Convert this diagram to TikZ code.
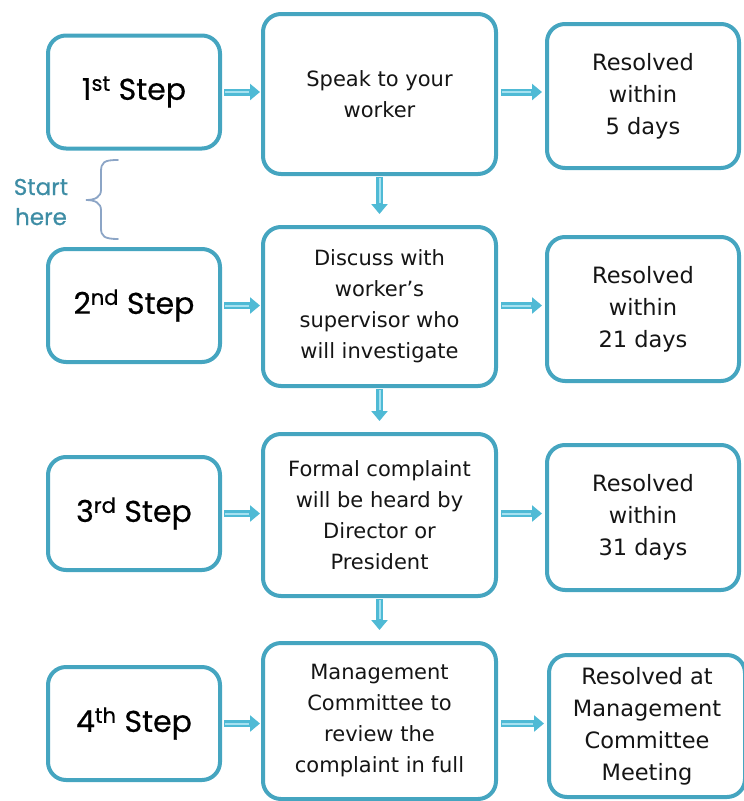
\documentclass[tikz,border=0pt]{standalone}
\usepackage{fontspec}
\setmainfont{DejaVu Sans}
\newfontfamily\stepfont{Poppins}[FakeBold=0.6]
\usetikzlibrary{arrows.meta}
\definecolor{boxc}{HTML}{45A5C0}
\definecolor{arrc}{HTML}{4FBAD5}
\definecolor{arrhi}{HTML}{A6E1F0}
\definecolor{txtc}{HTML}{151515}
\definecolor{startc}{HTML}{3E8DA5}
\definecolor{bracec}{HTML}{8CA5C6}
\tikzset{
  box/.style={draw=boxc, line width=4pt, rounded corners=18pt, fill=white,
    align=center, inner sep=0pt, text=txtc},
  stepbox/.style={box, minimum width=172pt, minimum height=113pt,
    font=\stepfont\fontsize{30}{32}\selectfont, text=black},
  midbox/.style={box, minimum width=233pt, font=\fontsize{21}{31}\selectfont},
  resbox/.style={box, font=\fontsize{22.5}{32}\selectfont},
  flow/.style={line width=7pt, draw=arrc, -{Triangle[length=10pt,width=16pt]}},
  flowhi/.style={line width=2pt, draw=arrhi},
}
\begin{document}
\begin{tikzpicture}[x=1pt, y=-1pt]
\useasboundingbox (0,0) rectangle (744,801);
% left column
\node[stepbox] (l1) at (134,92) {1\textsuperscript{st} Step};
\node[stepbox] (l2) at (134,305.5) {2\textsuperscript{nd} Step};
\node[stepbox] (l3) at (134,513.5) {3\textsuperscript{rd} Step};
\node[stepbox] (l4) at (134,723.5) {4\textsuperscript{th} Step};
% middle column
\node[midbox, minimum height=160pt] (m1) at (379.5,94) {Speak to your\\worker};
\node[midbox, minimum height=159pt] (m2) at (379.5,306.5) {Discuss with\\worker’s\\supervisor who\\will investigate};
\node[midbox, minimum height=162pt] (m3) at (379.5,515) {Formal complaint\\will be heard by\\Director or\\President};
\node[midbox, minimum height=156pt] (m4) at (379.5,721) {Management\\Committee to\\review the\\complaint in full};
% right column
\node[resbox, minimum width=192pt, minimum height=144pt] (r1) at (643,96) {Resolved\\within\\5 days};
\node[resbox, minimum width=192pt, minimum height=144pt] (r2) at (643,309) {Resolved\\within\\21 days};
\node[resbox, minimum width=192pt, minimum height=145pt] (r3) at (643,517.5) {Resolved\\within\\31 days};
\node[resbox, minimum width=196pt, minimum height=142pt] (r4) at (647,726) {Resolved at\\Management\\Committee\\Meeting};
% start here
\node[font=\stepfont\fontsize{23}{30}\selectfont, text=startc, align=center, inner sep=0pt] (start) at (41,202) {Start\\here};
\draw[bracec, line width=1.8pt, line cap=round]
  (118,160) .. controls (104,160) and (101,162) .. (101,172) -- (101,190)
  .. controls (101,197) and (95,200) .. (86,200)
  .. controls (95,200) and (101,203) .. (101,210) -- (101,228)
  .. controls (101,236) and (104,239) .. (118,239);
% horizontal arrows
\foreach \i in {1,2,3,4}{
  \draw[flow, shorten <=2pt, shorten >=1pt] (l\i.east) -- (l\i.east -| m\i.west);
  \draw[flowhi, shorten <=3pt, shorten >=12pt] (l\i.east) -- (l\i.east -| m\i.west);
  \draw[flow, shorten <=3pt, shorten >=3pt] (m\i.east |- l\i.east) -- (r\i.west |- l\i.east);
  \draw[flowhi, shorten <=4pt, shorten >=14pt] (m\i.east |- l\i.east) -- (r\i.west |- l\i.east);
}
% vertical arrows
\foreach \a/\b in {1/2,2/3,3/4}{
  \draw[flow, shorten <=1pt, shorten >=11pt] (m\a.south) -- (m\b.north);
  \draw[flowhi, shorten <=2pt, shorten >=22pt] (m\a.south) -- (m\b.north);
}
\end{tikzpicture}
\end{document}
